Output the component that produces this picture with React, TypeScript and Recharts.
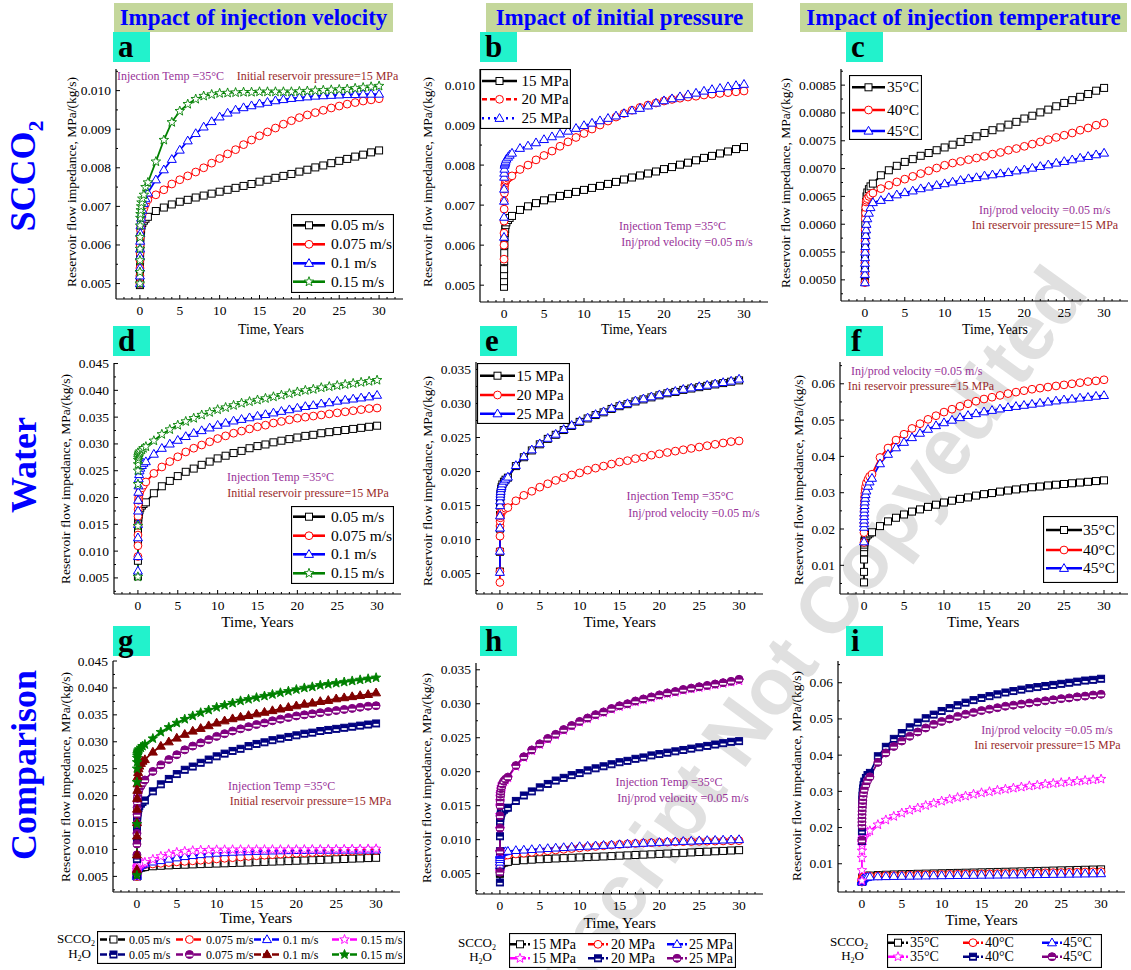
import React from "react";
import { Line, LineChart, XAxis, YAxis } from "recharts";

const SERIF = "'Times New Roman', 'Liberation Serif', serif";
const PURPLE = "#993399";
const BROWN = "#9a2b2b";

// time grid (years): dense near start, then yearly
const TIME = [0, 0.002, 0.005, 0.01, 0.02, 0.03, 0.05, 0.07, 0.1, 0.15, 0.2, 0.3, 0.5, 0.7,
  1, 2, 3, 4, 5, 6, 7, 8, 9, 10, 11, 12, 13, 14, 15, 16, 17, 18, 19, 20, 21, 22, 23, 24, 25, 26, 27, 28, 29, 30];

// SCCO2 impedance, MPa/(kg/s)
const SC_BASE = [0.00496, 0.0051, 0.00525, 0.0054, 0.0056, 0.0058, 0.006, 0.0062, 0.0063, 0.0064, 0.0065, 0.00657, 0.00663, 0.00668,
  0.00673, 0.00688, 0.00697, 0.00705, 0.00712, 0.00717, 0.00723, 0.00728, 0.00733, 0.00738, 0.00743, 0.00748, 0.00753, 0.00758, 0.00764,
  0.00769, 0.00774, 0.00779, 0.00784, 0.0079, 0.00795, 0.00801, 0.00806, 0.00812, 0.00818, 0.00823, 0.00829, 0.00834, 0.0084, 0.00845];
const SC_V075 = [0.005, 0.0052, 0.0054, 0.0056, 0.0058, 0.006, 0.0062, 0.0064, 0.0065, 0.0066, 0.0067, 0.0068, 0.00695, 0.00705,
  0.00717, 0.0073, 0.00743, 0.00758, 0.00769, 0.00779, 0.00789, 0.008, 0.00812, 0.00824, 0.00836, 0.00847, 0.0086, 0.00872, 0.00883,
  0.00893, 0.00903, 0.00913, 0.00922, 0.0093, 0.00937, 0.00943, 0.00949, 0.00955, 0.0096, 0.00965, 0.00969, 0.00973, 0.00976, 0.00979];
const SC_V1 = [0.005, 0.0052, 0.0054, 0.0057, 0.0059, 0.0061, 0.0063, 0.0065, 0.0066, 0.0067, 0.0068, 0.0069, 0.00708, 0.0072,
  0.00735, 0.00769, 0.00795, 0.00822, 0.00846, 0.0087, 0.00889, 0.00906, 0.0092, 0.00932, 0.00942, 0.0095, 0.00956, 0.00961, 0.00966,
  0.0097, 0.00974, 0.00977, 0.0098, 0.00982, 0.00984, 0.00986, 0.00987, 0.00988, 0.00989, 0.0099, 0.0099, 0.00991, 0.00991, 0.00991];
const SC_V15 = [0.005, 0.0053, 0.0056, 0.0059, 0.0062, 0.0065, 0.0067, 0.0068, 0.0069, 0.007, 0.0071, 0.0072, 0.0073, 0.0075,
  0.00762, 0.00816, 0.00872, 0.00918, 0.00947, 0.00965, 0.00978, 0.00986, 0.0099, 0.00993, 0.00994, 0.00995, 0.00996, 0.00996, 0.00997,
  0.00997, 0.00997, 0.00997, 0.00997, 0.00998, 0.00999, 0.01, 0.01001, 0.01002, 0.01003, 0.01004, 0.01006, 0.01008, 0.0101, 0.01012];
const SC_P20 = [0.00565, 0.006, 0.0063, 0.0066, 0.0069, 0.0071, 0.0073, 0.0074, 0.0075, 0.00755, 0.0076, 0.00763, 0.00767, 0.0077,
  0.00773, 0.00789, 0.008, 0.00813, 0.00824, 0.00835, 0.00847, 0.00858, 0.00869, 0.00879, 0.0089, 0.009, 0.0091, 0.0092, 0.00929,
  0.00937, 0.00944, 0.0095, 0.00955, 0.0096, 0.00964, 0.00967, 0.0097, 0.00972, 0.00975, 0.00977, 0.00979, 0.00981, 0.00983, 0.00985];
const SC_P25 = [0.0062, 0.0067, 0.0071, 0.0074, 0.0077, 0.0078, 0.0079, 0.008, 0.00803, 0.00806, 0.0081, 0.00815, 0.0082, 0.00825,
  0.0083, 0.00842, 0.00848, 0.00856, 0.00864, 0.00871, 0.00878, 0.00885, 0.00892, 0.00899, 0.00905, 0.00911, 0.00917, 0.00923, 0.00929,
  0.00936, 0.00942, 0.00948, 0.00955, 0.00961, 0.00966, 0.00971, 0.00976, 0.0098, 0.00985, 0.00989, 0.00992, 0.00996, 0.00999, 0.01002];
const SC_T40 = [0.00495, 0.0051, 0.0053, 0.0055, 0.0057, 0.0059, 0.0061, 0.0062, 0.0063, 0.0064, 0.00643, 0.00646, 0.0065, 0.00653,
  0.00656, 0.00664, 0.0067, 0.00676, 0.00681, 0.00686, 0.00691, 0.00696, 0.00701, 0.00706, 0.0071, 0.00713, 0.00716, 0.00719, 0.00722,
  0.00726, 0.00729, 0.00733, 0.00736, 0.0074, 0.00744, 0.00748, 0.00752, 0.00756, 0.0076, 0.00764, 0.00769, 0.00773, 0.00778, 0.00782];
const SC_T45 = [0.00495, 0.0051, 0.0052, 0.0053, 0.0054, 0.0055, 0.0056, 0.0057, 0.0058, 0.0059, 0.006, 0.0061, 0.0062, 0.0063,
  0.00639, 0.00643, 0.00648, 0.00653, 0.00657, 0.0066, 0.00664, 0.00667, 0.0067, 0.00673, 0.00676, 0.00679, 0.00682, 0.00684, 0.00687,
  0.00689, 0.00691, 0.00693, 0.00696, 0.00698, 0.00701, 0.00704, 0.00707, 0.0071, 0.00713, 0.00716, 0.00719, 0.00722, 0.00725, 0.00728];

// Water impedance, MPa/(kg/s)
const W_BASE = [0.0053, 0.0082, 0.0116, 0.0136, 0.015, 0.0157, 0.0163, 0.0167, 0.017, 0.0174, 0.0177, 0.0181, 0.0185, 0.0188,
  0.0191, 0.0208, 0.0221, 0.0231, 0.024, 0.0248, 0.0254, 0.0261, 0.0267, 0.0273, 0.0278, 0.0283, 0.0287, 0.0292, 0.0296,
  0.0299, 0.0303, 0.0306, 0.0309, 0.0312, 0.0315, 0.0317, 0.032, 0.0322, 0.0324, 0.0326, 0.0328, 0.033, 0.0332, 0.0334];
const W_V075 = [0.009, 0.011, 0.013, 0.0148, 0.0165, 0.0178, 0.0188, 0.0195, 0.02, 0.0205, 0.0209, 0.0213, 0.0218, 0.0223,
  0.0229, 0.0245, 0.0257, 0.0267, 0.0276, 0.0285, 0.0292, 0.0298, 0.0304, 0.031, 0.0315, 0.032, 0.0324, 0.0328, 0.0332,
  0.0335, 0.0339, 0.0342, 0.0345, 0.0348, 0.035, 0.0352, 0.0354, 0.0356, 0.0358, 0.036, 0.0362, 0.0364, 0.0366, 0.0367];
const W_V1 = [0.0063, 0.009, 0.0125, 0.015, 0.0175, 0.0195, 0.021, 0.0222, 0.0235, 0.0243, 0.025, 0.0255, 0.026, 0.0264,
  0.0267, 0.0281, 0.0292, 0.03, 0.0307, 0.0314, 0.032, 0.0325, 0.033, 0.0335, 0.0339, 0.0343, 0.0346, 0.0349, 0.0352,
  0.0355, 0.0358, 0.0361, 0.0364, 0.0367, 0.037, 0.0372, 0.0375, 0.0377, 0.038, 0.0382, 0.0384, 0.0386, 0.0388, 0.0391];
const W_V15 = [0.0052, 0.0147, 0.0225, 0.025, 0.0262, 0.027, 0.0274, 0.0277, 0.028, 0.0282, 0.0284, 0.0286, 0.0289, 0.0292,
  0.0295, 0.0306, 0.0318, 0.0327, 0.0335, 0.0342, 0.0348, 0.0354, 0.0359, 0.0364, 0.0368, 0.0372, 0.0376, 0.0379, 0.0382,
  0.0385, 0.0388, 0.0391, 0.0394, 0.0397, 0.04, 0.0402, 0.0405, 0.0407, 0.0409, 0.0411, 0.0413, 0.0415, 0.0417, 0.0419];
const W_P20 = [0.0037, 0.0053, 0.0083, 0.0105, 0.012, 0.0127, 0.0132, 0.0135, 0.0137, 0.0139, 0.014, 0.0142, 0.0144, 0.0146,
  0.0147, 0.0157, 0.0165, 0.0171, 0.0177, 0.0182, 0.0187, 0.0191, 0.0195, 0.0198, 0.0202, 0.0205, 0.0208, 0.0211, 0.0214,
  0.0216, 0.0219, 0.0221, 0.0224, 0.0226, 0.0228, 0.023, 0.0232, 0.0234, 0.0236, 0.0238, 0.024, 0.0242, 0.0244, 0.0245];
const W_P25 = [0.0052, 0.0083, 0.0117, 0.0135, 0.015, 0.0157, 0.0163, 0.0167, 0.0171, 0.0175, 0.0178, 0.0182, 0.0186, 0.0189,
  0.0192, 0.0209, 0.0222, 0.0232, 0.0241, 0.0249, 0.0255, 0.0262, 0.0268, 0.0274, 0.0279, 0.0284, 0.0288, 0.0293, 0.0297,
  0.03, 0.0304, 0.0307, 0.031, 0.0313, 0.0316, 0.0318, 0.0321, 0.0323, 0.0325, 0.0327, 0.0329, 0.0331, 0.0333, 0.0336];
const W_T40 = [0.0163, 0.019, 0.0215, 0.0235, 0.025, 0.0265, 0.0277, 0.0288, 0.0298, 0.0308, 0.0317, 0.0327, 0.0337, 0.0345,
  0.0351, 0.0397, 0.0423, 0.0445, 0.0461, 0.0477, 0.049, 0.0502, 0.0512, 0.0522, 0.053, 0.0538, 0.0545, 0.0552, 0.0558,
  0.0563, 0.0568, 0.0573, 0.0577, 0.0581, 0.0585, 0.0588, 0.0591, 0.0594, 0.0597, 0.06, 0.0603, 0.0606, 0.0608, 0.0611];
const W_T45 = [0.0165, 0.0205, 0.0215, 0.0225, 0.0235, 0.0245, 0.0255, 0.0265, 0.0275, 0.0285, 0.0295, 0.0305, 0.0318, 0.033,
  0.034, 0.038, 0.0406, 0.0424, 0.0439, 0.0452, 0.0464, 0.0475, 0.0485, 0.0493, 0.05, 0.0507, 0.0513, 0.0518, 0.0523,
  0.0527, 0.0531, 0.0535, 0.0538, 0.0541, 0.0544, 0.0547, 0.055, 0.0553, 0.0556, 0.0558, 0.0561, 0.0563, 0.0566, 0.0568];

const VEL = ["0.05 m/s", "0.075 m/s", "0.1 m/s", "0.15 m/s"];
const PRES = ["15 MPa", "20 MPa", "25 MPa"];
const TEMP = ["35°C", "40°C", "45°C"];

const X_DOMAIN: [number, number] = [-3, 33];
const X_MAJOR = [0, 5, 10, 15, 20, 25, 30];
const X_TICKS = Array.from({ length: 35 }, (_, i) => i - 2);
const Y_SC = [0.005, 0.006, 0.007, 0.008, 0.009, 0.01];
const Y_T = [0.005, 0.0055, 0.006, 0.0065, 0.007, 0.0075, 0.008, 0.0085];
const Y_W45 = [0.005, 0.01, 0.015, 0.02, 0.025, 0.03, 0.035, 0.04, 0.045];
const Y_W35 = [0.005, 0.01, 0.015, 0.02, 0.025, 0.03, 0.035];
const Y_W60 = [0.01, 0.02, 0.03, 0.04, 0.05, 0.06];

type Shape = "square" | "circle" | "triangle" | "star" | "squareHalf" | "circleHalf" | "triangleFill" | "starFill";
type Series = { name: string; values: number[]; color: string; shape: Shape; dash?: string };

const ser = (name: string, values: number[], color: string, shape: Shape, dash?: string): Series => ({ name, values, color, shape, dash });

function starPoints(x: number, y: number, ro: number, ri: number) {
  const pts: string[] = [];
  for (let k = 0; k < 10; k++) {
    const r = k % 2 === 0 ? ro : ri;
    const a = -Math.PI / 2 + (k * Math.PI) / 5;
    pts.push(`${x + r * Math.cos(a)},${y + r * Math.sin(a)}`);
  }
  return pts.join(" ");
}

function Marker({ shape, x, y, color }: { shape: Shape; x: number; y: number; color: string }) {
  if (x == null || y == null || isNaN(x) || isNaN(y)) return <g />;
  const tri = `${x},${y - 4.7} ${x + 4.5},${y + 3.1} ${x - 4.5},${y + 3.1}`;
  switch (shape) {
    case "square":
      return <rect x={x - 3.5} y={y - 3.5} width={7} height={7} fill="#fff" stroke={color} strokeWidth={1} />;
    case "circle":
      return <circle cx={x} cy={y} r={3.9} fill="#fff" stroke={color} strokeWidth={1} />;
    case "triangle":
      return <polygon points={tri} fill="#fff" stroke={color} strokeWidth={1} />;
    case "star":
      return <polygon points={starPoints(x, y, 5, 2.1)} fill="#fff" stroke={color} strokeWidth={0.9} />;
    case "squareHalf":
      return (
        <g>
          <rect x={x - 3.5} y={y - 3.5} width={7} height={7} fill={color} stroke={color} strokeWidth={1} />
          <rect x={x - 2.6} y={y + 0.4} width={5.2} height={1.7} fill="#fff" />
        </g>
      );
    case "circleHalf":
      return (
        <g>
          <circle cx={x} cy={y} r={4} fill={color} stroke={color} strokeWidth={1} />
          <rect x={x - 3.1} y={y + 0.3} width={6.2} height={1.7} fill="#fff" />
        </g>
      );
    case "triangleFill":
      return <polygon points={tri} fill={color} stroke={color} strokeWidth={1} />;
    default:
      return <polygon points={starPoints(x, y, 5, 2.1)} fill={color} stroke={color} strokeWidth={0.9} />;
  }
}

type PanelCfg = {
  x: number; y: number; w: number; h: number;
  yDomain: [number, number]; yMajor: number[]; digits: number;
  series: Series[];
};

const PANELS: PanelCfg[] = [
  { x: 116, y: 69, w: 287, h: 230, yDomain: [0.0046, 0.01056], yMajor: Y_SC, digits: 3, series: [
    ser(VEL[0], SC_BASE, "#000", "square"), ser(VEL[1], SC_V075, "#ff0000", "circle"),
    ser(VEL[2], SC_V1, "#0000ff", "triangle"), ser(VEL[3], SC_V15, "#008000", "star")] },
  { x: 480, y: 69, w: 288, h: 233, yDomain: [0.00458, 0.0104], yMajor: Y_SC, digits: 3, series: [
    ser(PRES[0], SC_BASE, "#000", "square"), ser(PRES[1], SC_P20, "#ff0000", "circle", "6 3"),
    ser(PRES[2], SC_P25, "#0000ff", "triangle", "1.5 3")] },
  { x: 841, y: 69, w: 287, h: 232, yDomain: [0.00462, 0.00879], yMajor: Y_T, digits: 4, series: [
    ser(TEMP[0], SC_BASE, "#000", "square"), ser(TEMP[1], SC_T40, "#ff0000", "circle"),
    ser(TEMP[2], SC_T45, "#0000ff", "triangle")] },
  { x: 114, y: 363, w: 287, h: 231, yDomain: [0.002, 0.0451], yMajor: Y_W45, digits: 3, series: [
    ser(VEL[0], W_BASE, "#000", "square"), ser(VEL[1], W_V075, "#ff0000", "circle"),
    ser(VEL[2], W_V1, "#0000ff", "triangle"), ser(VEL[3], W_V15, "#008000", "star")] },
  { x: 476, y: 362, w: 287, h: 232, yDomain: [0.002, 0.0361], yMajor: Y_W35, digits: 3, series: [
    ser(PRES[0], W_BASE, "#000", "square"), ser(PRES[1], W_P20, "#ff0000", "circle"),
    ser(PRES[2], W_P25, "#0000ff", "triangle")] },
  { x: 840, y: 362, w: 288, h: 232, yDomain: [0.0021, 0.066], yMajor: Y_W60, digits: 2, series: [
    ser(TEMP[0], W_BASE, "#000", "square"), ser(TEMP[1], W_T40, "#ff0000", "circle"),
    ser(TEMP[2], W_T45, "#0000ff", "triangle")] },
  { x: 113, y: 661, w: 287, h: 231, yDomain: [0.0021, 0.045], yMajor: Y_W45, digits: 3, series: [
    ser(VEL[0], SC_BASE, "#000", "square"), ser(VEL[1], SC_V075, "#ff0000", "circle"),
    ser(VEL[2], SC_V1, "#0000ff", "triangle"), ser(VEL[3], SC_V15, "#ff00ff", "star"),
    ser(VEL[0], W_BASE, "#000080", "squareHalf"), ser(VEL[1], W_V075, "#800080", "circleHalf"),
    ser(VEL[2], W_V1, "#800000", "triangleFill"), ser(VEL[3], W_V15, "#008000", "starFill")] },
  { x: 476, y: 663, w: 287, h: 231, yDomain: [0.002, 0.036], yMajor: Y_W35, digits: 3, series: [
    ser(PRES[0], SC_BASE, "#000", "square"), ser(PRES[1], SC_P20, "#ff0000", "circle"),
    ser(PRES[2], SC_P25, "#0000ff", "triangle"), ser(PRES[0], W_BASE, "#ff00ff", "star"),
    ser(PRES[1], W_P20, "#000080", "squareHalf"), ser(PRES[2], W_P25, "#800080", "circleHalf")] },
  { x: 838, y: 661, w: 287, h: 231, yDomain: [0.0022, 0.066], yMajor: Y_W60, digits: 2, series: [
    ser(TEMP[0], SC_BASE, "#000", "square"), ser(TEMP[1], SC_T40, "#ff0000", "circle"),
    ser(TEMP[2], SC_T45, "#0000ff", "triangle"), ser(TEMP[0], W_BASE, "#ff00ff", "star"),
    ser(TEMP[1], W_T40, "#000080", "squareHalf"), ser(TEMP[2], W_T45, "#800080", "circleHalf")] },
];

function withMinors(major: number[], domain: [number, number]) {
  const step = (major[1] - major[0]) / 2;
  const out: number[] = [];
  for (let k = -4; k < 40; k++) {
    const v = +(major[0] + k * step).toFixed(6);
    if (v >= domain[0] && v <= domain[1]) out.push(v);
  }
  return out;
}

function Panel({ p }: { p: PanelCfg }) {
  const yTicks = withMinors(p.yMajor, p.yDomain);
  const step = p.yMajor[1] - p.yMajor[0];
  const xTick = (props: any) => {
    const { x, y, payload } = props;
    const major = X_MAJOR.includes(payload.value);
    return (
      <g>
        <line x1={x} x2={x} y1={y} y2={y - (major ? 4 : 2)} stroke="#000" strokeWidth={1} />
        {major && (
          <text x={x} y={y + 16} textAnchor="middle" fontSize={13.5} fontFamily={SERIF} fill="#000">{payload.value}</text>
        )}
      </g>
    );
  };
  const yTick = (props: any) => {
    const { x, y, payload } = props;
    const major = p.yMajor.some((m) => Math.abs(m - payload.value) < step / 10);
    return (
      <g>
        <line x1={x} x2={x + (major ? 4 : 2)} y1={y} y2={y} stroke="#000" strokeWidth={1} />
        {major && (
          <text x={x - 5} y={y + 4.5} textAnchor="end" fontSize={13.5} fontFamily={SERIF} fill="#000">
            {payload.value.toFixed(p.digits)}
          </text>
        )}
      </g>
    );
  };
  return (
    <div style={{ position: "absolute", left: p.x - 60, top: p.y - 8 }}>
      <LineChart width={p.w + 68} height={p.h + 38} margin={{ top: 8, right: 8, bottom: 0, left: 0 }}>
        <XAxis type="number" dataKey="t" domain={X_DOMAIN} ticks={X_TICKS} interval={0} allowDataOverflow height={30}
          tickSize={0} tickMargin={0} tickLine={false} axisLine={{ stroke: "#000", strokeWidth: 1.2 }} tick={xTick} />
        <YAxis type="number" domain={p.yDomain} ticks={yTicks} interval={0} allowDataOverflow width={60}
          tickSize={0} tickMargin={0} tickLine={false} axisLine={{ stroke: "#000", strokeWidth: 1.2 }} tick={yTick} />
        <XAxis xAxisId="top" orientation="top" type="number" domain={X_DOMAIN} allowDataOverflow height={0}
          tick={false} tickLine={false} axisLine={{ stroke: "#000", strokeWidth: 1.2 }} />
        <YAxis yAxisId="right" orientation="right" type="number" domain={p.yDomain} allowDataOverflow width={0}
          tick={false} tickLine={false} axisLine={{ stroke: "#000", strokeWidth: 1.2 }} />
        {p.series.map((s, i) => (
          <Line
            key={i}
            data={TIME.map((t, k) => ({ t, v: s.values[k] }))}
            dataKey="v"
            type="linear"
            stroke={s.color}
            strokeWidth={1.8}
            strokeDasharray={s.dash}
            dot={(d: any) => <Marker key={`m${i}-${d.index}`} shape={s.shape} x={d.cx} y={d.cy} color={s.color} />}
            activeDot={false}
            isAnimationActive={false}
          />
        ))}
      </LineChart>
    </div>
  );
}

type InsetCfg = { x: number; y: number; w: number; h: number; rows: number[]; lx: [number, number]; tx: number; fs: number; series: Series[] };

function InsetLegend({ c }: { c: InsetCfg }) {
  return (
    <svg style={{ position: "absolute", left: c.x, top: c.y }} width={c.w + 1} height={c.h + 1}>
      <rect x={0.5} y={0.5} width={c.w} height={c.h} fill="#fff" stroke="#000" strokeWidth={1.2} />
      {c.series.map((s, i) => {
        const y = c.rows[i] - c.y;
        const x1 = c.lx[0] - c.x;
        const x2 = c.lx[1] - c.x;
        return (
          <g key={i}>
            <line x1={x1} x2={x2} y1={y} y2={y} stroke={s.color} strokeWidth={2.6} strokeDasharray={s.dash ? (s.dash === "6 3" ? "5 3" : "2 4") : undefined} />
            <Marker shape={s.shape} x={(x1 + x2) / 2} y={y} color={s.color} />
            <text x={c.tx - c.x} y={y + 5} fontSize={c.fs} fontFamily={SERIF} fill="#000">{s.name}</text>
          </g>
        );
      })}
    </svg>
  );
}

const INSETS: InsetCfg[] = [
  { x: 291, y: 214, w: 102, h: 78, rows: [225.3, 244.3, 263.3, 281.7], lx: [293, 325], tx: 331, fs: 15.5, series: PANELS[0].series },
  { x: 480, y: 69, w: 90, h: 59, rows: [81, 99.3, 118.3], lx: [482, 517], tx: 521.5, fs: 15, series: PANELS[1].series },
  { x: 849, y: 75, w: 72, h: 64, rows: [87.3, 110, 131], lx: [852, 885], tx: 887, fs: 15.5, series: PANELS[2].series },
  { x: 291, y: 506, w: 102, h: 77, rows: [516.7, 535.7, 554.3, 573.3], lx: [293, 325], tx: 331, fs: 15.5, series: PANELS[3].series },
  { x: 477, y: 363, w: 92, h: 60, rows: [375.7, 395, 413.7], lx: [480, 515], tx: 516.5, fs: 15, series: PANELS[4].series },
  { x: 1043, y: 516, w: 74, h: 66, rows: [530, 550, 568.3], lx: [1046, 1082], tx: 1083, fs: 15.5, series: PANELS[5].series },
];

type BottomCfg = { x: number; y: number; w: number; h: number; rows: [number, number]; cols: [number, number, number][]; fs: number; series: Series[]; labelX: number };

function BottomLegend({ c }: { c: BottomCfg }) {
  const n = c.cols.length;
  return (
    <>
      <svg style={{ position: "absolute", left: c.x, top: c.y }} width={c.w + 1} height={c.h + 1}>
        <rect x={0.5} y={0.5} width={c.w} height={c.h} fill="#fff" stroke="#000" strokeWidth={1.2} />
        {c.series.map((s, i) => {
          const row = Math.floor(i / n);
          const col = c.cols[i % n];
          const y = c.rows[row] - c.y;
          const x1 = col[0] - c.x;
          const x2 = col[1] - c.x;
          return (
            <g key={i}>
              <line x1={x1} x2={x2} y1={y} y2={y} stroke={s.color} strokeWidth={2.4} strokeDasharray="7 2" />
              <Marker shape={s.shape} x={(x1 + x2) / 2} y={y} color={s.color} />
              <text x={col[2] - c.x} y={y + 4.5} fontSize={c.fs} fontFamily={SERIF} fill="#000">{s.name}</text>
            </g>
          );
        })}
      </svg>
      <Txt x={c.labelX} y={c.rows[0]} size={13} anchor="end">SCCO<sub style={{ fontSize: 8 }}>2</sub></Txt>
      <Txt x={c.labelX - 4} y={c.rows[1]} size={13} anchor="end">H<sub style={{ fontSize: 8 }}>2</sub>O</Txt>
    </>
  );
}

const BOTTOMS: BottomCfg[] = [
  { x: 97, y: 931, w: 307, h: 32, rows: [939.5, 954.5], cols: [[100, 127, 129], [176, 203, 206], [254, 280, 283], [332, 357, 361]], fs: 12, series: PANELS[6].series, labelX: 95 },
  { x: 509, y: 933, w: 226, h: 34, rows: [944.3, 958.3], cols: [[510, 530, 532], [588, 608, 611], [667, 687, 689]], fs: 14, series: PANELS[7].series, labelX: 496 },
  { x: 887, y: 934, w: 214, h: 33, rows: [942.7, 956.7], cols: [[888, 908, 910], [963, 983, 985], [1042, 1062, 1063]], fs: 14, series: PANELS[8].series, labelX: 868 },
];

function Txt({ x, y, size, color = "#000", anchor = "middle", bold = false, rotate = 0, children }: any) {
  const tx = anchor === "middle" ? "-50%" : anchor === "end" ? "-100%" : "0";
  return (
    <div style={{
      position: "absolute", left: x, top: y, whiteSpace: "nowrap", fontFamily: SERIF, fontSize: size, color,
      fontWeight: bold ? "bold" : "normal", lineHeight: 1,
      transform: `translate(${tx}, -50%) rotate(${rotate}deg)`,
    }}>{children}</div>
  );
}

const NOTES: [number, number, string, string][] = [
  [170.5, 76, "Injection Temp =35°C", PURPLE], [317.5, 76, "Initial reservoir pressure=15 MPa", BROWN],
  [672.5, 226, "Injection Temp =35°C", PURPLE], [687, 242, "Inj/prod velocity =0.05 m/s", PURPLE],
  [1044.7, 210, "Inj/prod velocity =0.05 m/s", PURPLE], [1045, 225, "Ini reservoir pressure=15 MPa", BROWN],
  [280.5, 477, "Injection Temp =35°C", PURPLE], [308, 492.7, "Initial reservoir pressure=15 MPa", BROWN],
  [680, 495.7, "Injection Temp =35°C", PURPLE], [694, 512.7, "Inj/prod velocity =0.05 m/s", PURPLE],
  [916.7, 371, "Inj/prod velocity =0.05 m/s", PURPLE], [921, 386, "Ini reservoir pressure=15 MPa", BROWN],
  [281.7, 786, "Injection Temp =35°C", PURPLE], [310.5, 801, "Initial reservoir pressure=15 MPa", BROWN],
  [669, 781.7, "Injection Temp =35°C", PURPLE], [683, 798, "Inj/prod velocity =0.05 m/s", PURPLE],
  [1047, 730, "Inj/prod velocity =0.05 m/s", PURPLE], [1047.5, 745, "Ini reservoir pressure=15 MPa", BROWN],
];

const HEADERS: [number, number, string][] = [
  [114, 279, "Impact of injection velocity"],
  [486, 267, "Impact of initial pressure"],
  [800, 327, "Impact of injection temperature"],
];

const TAGS: [number, number, string][] = [
  [113, 32, "a"], [480, 32, "b"], [846, 32, "c"],
  [113, 326, "d"], [480, 326, "e"], [846, 326, "f"],
  [113, 626, "g"], [480, 626, "h"], [846, 626, "i"],
];

const Y_TITLES: [number, number][] = [
  [71.5, 182], [428, 182], [786, 182.5],
  [66, 479], [428, 480.5], [799, 480],
  [65.5, 776.7], [427, 778], [797, 776],
];

const X_TITLES: [number, number, number][] = [
  [271, 330, 13.8], [634, 330, 13.8], [995, 330, 13.8],
  [257.5, 621.7, 15.2], [619.7, 621.7, 15.2], [983.3, 621.7, 15.2],
  [256, 918.3, 15.2], [619.7, 922.7, 15.2], [981.5, 920, 15.2],
];

export default function App() {
  return (
    <div style={{ position: "absolute", left: 0, top: 0, width: 1131, height: 970, background: "#fff", overflow: "hidden" }}>
      <svg style={{ position: "absolute", left: 0, top: 0 }} width={1131} height={970}>
        <text x={1090} y={293} transform="rotate(-54 1090 293)" textAnchor="end" fontFamily="'Liberation Sans', Arial, sans-serif"
          fontWeight="bold" fontSize={80} fill="#e0e0e0">Accepted Manuscript Not Copyedited</text>
      </svg>
      {PANELS.map((p, i) => <Panel key={i} p={p} />)}
      {INSETS.map((c, i) => <InsetLegend key={i} c={c} />)}
      {BOTTOMS.map((c, i) => <BottomLegend key={i} c={c} />)}
      {NOTES.map(([x, y, t, col], i) => <Txt key={i} x={x} y={y} size={12} color={col}>{t}</Txt>)}
      {Y_TITLES.map(([x, y], i) => (
        <Txt key={i} x={x} y={y} size={13.5} rotate={-90}>Reservoir flow impedance, MPa/(kg/s)</Txt>
      ))}
      {X_TITLES.map(([x, y, s], i) => <Txt key={i} x={x} y={y} size={s}>Time, Years</Txt>)}
      {HEADERS.map(([x, w, t], i) => (
        <div key={i} style={{
          position: "absolute", left: x, top: 3, width: w, height: 29, background: "#c4d79b", color: "#0000ff",
          fontFamily: SERIF, fontWeight: "bold", fontSize: 23, lineHeight: "29px", textAlign: "center", whiteSpace: "nowrap",
        }}>{t}</div>
      ))}
      {TAGS.map(([x, y, t], i) => (
        <div key={i} style={{
          position: "absolute", left: x, top: y, width: 37, height: 30, background: "#22f2cc", color: "#000",
          fontFamily: SERIF, fontWeight: "bold", fontSize: 31, lineHeight: "30px", paddingLeft: 5, boxSizing: "border-box",
        }}>{t}</div>
      ))}
      <Txt x={26} y={176} size={36} color="#0000ff" bold rotate={-90}>SCCO<sub style={{ fontSize: 22 }}>2</sub></Txt>
      <Txt x={24} y={465} size={36} color="#0000ff" bold rotate={-90}>Water</Txt>
      <Txt x={24} y={765} size={36} color="#0000ff" bold rotate={-90}>Comparison</Txt>
    </div>
  );
}
